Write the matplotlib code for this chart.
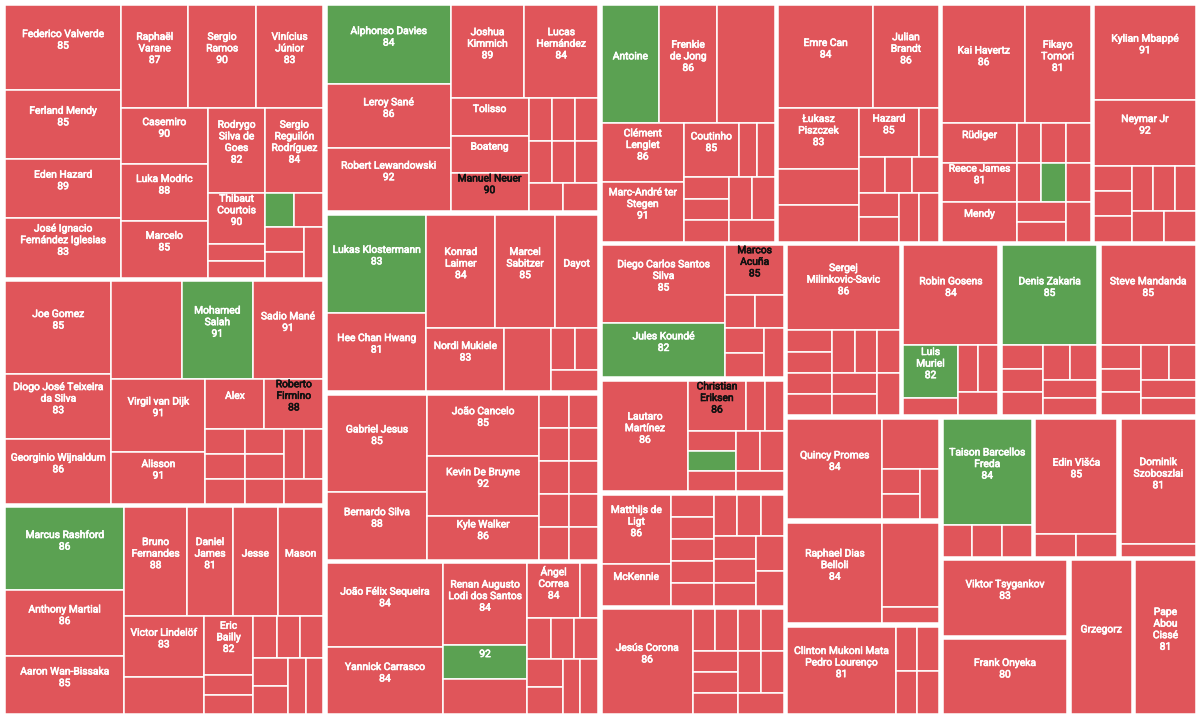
import matplotlib
matplotlib.use("Agg")
import matplotlib.pyplot as plt
import matplotlib.patheffects as pe
from matplotlib.patches import Rectangle

# clubs in descending total size; one list per club in every table below
clubs = ["Real Madrid", "Liverpool", "Manchester United", "Bayern München", "RB Leipzig",
         "Manchester City", "Atlético Madrid", "FC Barcelona", "Borussia Dortmund", "Chelsea",
         "Paris Saint-Germain", "Sevilla", "Inter", "Juventus", "Porto", "Lazio", "Atalanta",
         "Mönchengladbach", "Marseille", "Ajax", "Rennes", "Club Brugge", "Shakhtar Donetsk",
         "Başakşehir", "RB Salzburg", "Dynamo Kyiv", "Midtjylland", "Lokomotiv Moskva", "Olympiacos"]

player_names = [
    ["Federico Valverde", "Ferland Mendy", "Eden Hazard", "José Ignacio\nFernández Iglesias",
     "Raphaël\nVarane", "Sergio\nRamos", "Vinícius\nJúnior", "Casemiro", "Luka Modric", "Marcelo",
     "Rodrygo\nSilva de\nGoes", "Sergio\nReguilón\nRodríguez", "Thibaut\nCourtois"] + [""] * 7,
    ["Joe Gomez", "Diogo José Teixeira\nda Silva", "Georginio Wijnaldum", "", "Mohamed\nSalah",
     "Sadio Mané", "Virgil van Dijk", "Alisson", "Alex", "Roberto\nFirmino"] + [""] * 9,
    ["Marcus Rashford", "Anthony Martial", "Aaron Wan-Bissaka", "Bruno\nFernandes", "Daniel\nJames",
     "Jesse", "Mason", "Victor Lindelöf", "", "Eric\nBailly"] + [""] * 9,
    ["Alphonso Davies", "Leroy Sané", "Robert Lewandowski", "Joshua\nKimmich", "Lucas\nHernández",
     "Tolisso", "Boateng", "Manuel Neuer"] + [""] * 8,
    ["Lukas Klostermann", "Hee Chan Hwang", "Konrad\nLaimer", "Marcel\nSabitzer", "Dayot",
     "Nordi Mukiele"] + [""] * 4,
    ["Gabriel Jesus", "Bernardo Silva", "João Cancelo", "Kevin De Bruyne", "Kyle Walker"] + [""] * 10,
    ["João Félix Sequeira", "Yannick Carrasco", "Renan Augusto\nLodi dos Santos", "", "",
     "Ángel\nCorrea"] + [""] * 8,
    ["Antoine", "Frenkie\nde Jong", "", "Clément\nLenglet", "Marc-André ter\nStegen", "Coutinho"] + [""] * 8,
    ["Emre Can", "Julian\nBrandt", "Łukasz\nPiszczek", "", "", "Hazard"] + [""] * 8,
    ["Kai Havertz", "Fikayo\nTomori", "Rüdiger", "Reece James", "Mendy"] + [""] * 9,
    ["Kylian Mbappé", "Neymar Jr"] + [""] * 8,
    ["Diego Carlos Santos\nSilva", "Jules Koundé", "Marcos\nAcuña"] + [""] * 5,
    ["Lautaro\nMartínez", "Christian\nEriksen"] + [""] * 8,
    ["Matthijs de\nLigt", "McKennie"] + [""] * 13,
    ["Jesús Corona"] + [""] * 10,
    ["Sergej\nMilinkovic-Savic"] + [""] * 10,
    ["Robin Gosens", "Luis\nMuriel"] + [""] * 4,
    ["Denis Zakaria"] + [""] * 7,
    ["Steve Mandanda"] + [""] * 7,
    ["Quincy Promes", "", "", "", ""],
    ["Raphael Dias\nBelloli", "", ""],
    ["Clinton Mukoni Mata\nPedro Lourenço", "", "", "", ""],
    ["Taison Barcellos\nFreda", "", "", ""],
    ["Edin Višća", "", ""],
    ["Dominik\nSzoboszlai", ""],
    ["Viktor Tsygankov"],
    ["Frank Onyeka"],
    ["Grzegorz"],
    ["Pape\nAbou\nCissé"],
]

player_sizes = [
    [10, 8, 7, 7, 7, 7, 7, 5, 5, 5, 5, 5, 3] + [1] * 7,
    [10, 7, 7, 7, 7, 7, 7, 5, 3, 3] + [1] * 9,
    [10, 8, 7, 7, 5, 5, 5, 5, 3, 3] + [1] * 9,
    [10, 8, 8, 7, 7, 3, 3, 3] + [1] * 8,
    [10, 8, 8, 7, 5, 5, 3, 1, 1, 1],
    [10, 7, 7, 7, 5] + [1] * 10,
    [10, 8, 7, 3, 3, 3] + [1] * 8,
    [7, 7, 7, 5, 5, 3] + [1] * 8,
    [10, 7, 5, 3, 3, 3] + [1] * 8,
    [10, 8, 3, 3, 3] + [1] * 9,
    [10, 7] + [1] * 8,
    [10, 7, 3] + [1] * 5,
    [10, 3] + [1] * 8,
    [5, 3] + [1] * 13,
    [10] + [1] * 10,
    [10] + [1] * 10,
    [10, 3, 1, 1, 1, 1],
    [10] + [1] * 7,
    [10] + [1] * 7,
    [10, 3, 1, 1, 1],
    [10, 5, 1],
    [10, 1, 1, 1, 1],
    [10, 1, 1, 1],
    [10, 1, 1],
    [10, 1],
    [10],
    [10],
    [10],
    [10],
]

player_ratings = [
    [85, 85, 89, 83, 87, 90, 83, 90, 88, 85, 82, 84, 90],
    [85, 83, 86, None, 91, 91, 91, 91, None, 88],
    [86, 86, 85, 88, 81, None, None, 83, None, 82],
    [84, 86, 92, 89, 84, None, None, 90],
    [83, 81, 84, 85, None, 83],
    [85, 88, 85, 92, 86],
    [84, 84, 84, 92, None, 84],
    [None, 86, None, 86, 91, 85],
    [84, 86, 83, None, None, 85],
    [86, 81, None, 81, None],
    [91, 92],
    [85, 82, 85],
    [86, 86],
    [86, None],
    [86],
    [86],
    [84, 82],
    [85],
    [85],
    [84],
    [84],
    [81],
    [84],
    [85],
    [81],
    [83],
    [80],
    [None],
    [81],
]

# index of the player drawn in green inside each club (None = all red)
highlighted = [15, 4, 0, 0, 0, None, 3, 0, None, 9, None, 1, 5, None, None, None, 1, 0,
               None, None, None, None, 0, None, None, None, None, None, None]

dark_labels = ["Manuel Neuer", "Roberto\nFirmino", "Marcos\nAcuña", "Christian\nEriksen"]

RED = "#e0555a"
GREEN = "#5ba152"
PHI = (1 + 5 ** 0.5) / 2


def squarify(values, x0, y0, x1, y1, ratio=PHI):
    """Squarified layout (rows along the short side, target aspect = golden ratio)."""
    n = len(values)
    rects = [None] * n
    value = float(sum(values))
    i0 = 0
    while i0 < n:
        dx, dy = x1 - x0, y1 - y0
        i1 = i0
        sum_v = values[i1]
        i1 += 1
        min_v = max_v = sum_v
        alpha = max(dy / dx, dx / dy) / (value * ratio)
        beta = sum_v * sum_v * alpha
        min_ratio = max(max_v / beta, beta / min_v)
        while i1 < n:
            v = values[i1]
            sum_v += v
            min_v = min(min_v, v)
            max_v = max(max_v, v)
            beta = sum_v * sum_v * alpha
            new_ratio = max(max_v / beta, beta / min_v)
            if new_ratio > min_ratio:
                sum_v -= v
                break
            min_ratio = new_ratio
            i1 += 1
        if dx < dy:
            h = dy * sum_v / value
            cx = x0
            for i in range(i0, i1):
                w = dx * values[i] / sum_v
                rects[i] = (cx, y0, cx + w, y0 + h)
                cx += w
            y0 += h
        else:
            w = dx * sum_v / value
            cy = y0
            for i in range(i0, i1):
                h = dy * values[i] / sum_v
                rects[i] = (x0, cy, x0 + w, cy + h)
                cy += h
            x0 += w
        value -= sum_v
        i0 = i1
    return rects


fig = plt.figure(figsize=(12, 7.19), dpi=100)
ax = fig.add_axes([0, 0, 1, 1])
ax.set_xlim(0, 1200)
ax.set_ylim(719, 0)
ax.axis("off")

club_totals = [sum(s) for s in player_sizes]
club_rects = squarify(club_totals, 3.5, 3.5, 1197.5, 716.0)

pad = 1.75  # group inset; white edges add the rest of the gap
for c, (gx0, gy0, gx1, gy1) in enumerate(club_rects):
    sizes = player_sizes[c]
    rects = squarify(sizes, gx0 + pad, gy0 + pad, gx1 - pad, gy1 - pad)
    for i, (x0, y0, x1, y1) in enumerate(rects):
        color = GREEN if highlighted[c] == i else RED
        ax.add_patch(Rectangle((x0, y0), x1 - x0, y1 - y0, facecolor=color,
                               edgecolor="white", linewidth=1.1))
        name = player_names[c][i]
        rating = player_ratings[c][i] if i < len(player_ratings[c]) else None
        lines = []
        if name:
            lines.append(name)
        if rating is not None:
            lines.append(str(rating))
        if not lines:
            continue
        txt_color = "#111111" if name in dark_labels else "white"
        ax.text((x0 + x1) / 2, (y0 + y1) / 2 - 8, "\n".join(lines), ha="center", va="center",
                fontsize=7.4, family="Roboto", color=txt_color, linespacing=1.2,
                path_effects=[pe.withStroke(linewidth=0.45, foreground=txt_color)])

fig.savefig("out.png", dpi=100, facecolor="white")
